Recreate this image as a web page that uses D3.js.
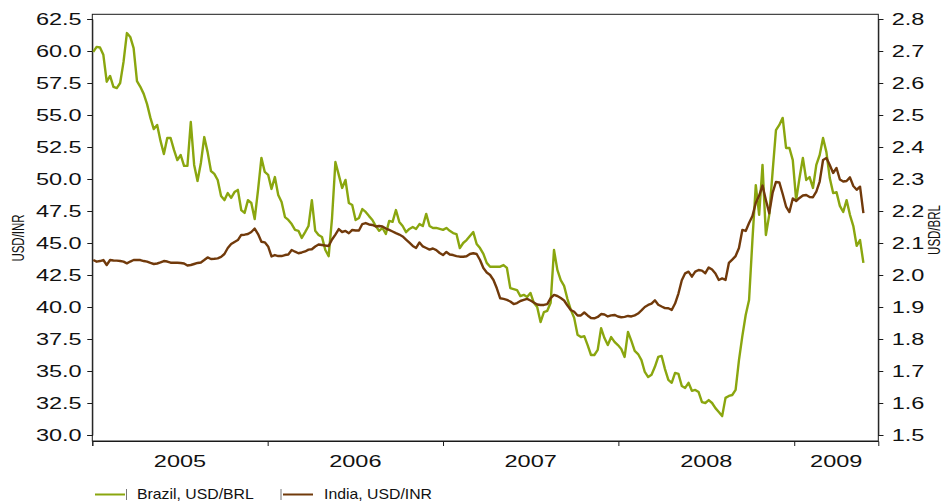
<!DOCTYPE html>
<html><head><meta charset="utf-8">
<script src="https://cdn.jsdelivr.net/npm/d3@7"></script>
<style>
html,body{margin:0;padding:0;background:#fff;}
svg{display:block;font-family:"Liberation Sans",Arial,sans-serif;}
</style></head>
<body><svg id="chart" width="942" height="502"></svg>
<script>
// Weekly observation calendar (Mondays), Jan 3 2005 .. May 25 2009
const weekStart = new Date(2005, 0, 3);
const weekEnd = new Date(2009, 4, 26);
const weeks = d3.timeMonday.range(weekStart, weekEnd);

const seriesNames = ["Brazil, USD/BRL", "India, USD/INR"];

// Brazil, USD/BRL (right axis)
const brazil = [
 2.697,2.713,2.711,2.688,2.604,2.622,2.588,2.584,2.600,2.666,
 2.756,2.744,2.709,2.606,2.588,2.566,2.534,2.491,2.456,2.469,
 2.419,2.378,2.428,2.428,2.391,2.359,2.375,2.341,2.341,2.478,
 2.344,2.294,2.350,2.431,2.384,2.325,2.316,2.297,2.247,2.234,
 2.256,2.241,2.259,2.266,2.203,2.194,2.234,2.225,2.175,2.266,
 2.366,2.322,2.313,2.269,2.306,2.250,2.228,2.181,2.172,2.159,
 2.141,2.138,2.116,2.134,2.153,2.234,2.138,2.125,2.119,2.078,
 2.059,2.178,2.353,2.313,2.272,2.297,2.225,2.219,2.172,2.178,
 2.206,2.197,2.184,2.172,2.153,2.138,2.147,2.128,2.169,2.166,
 2.203,2.166,2.153,2.134,2.144,2.150,2.144,2.159,2.153,2.191,
 2.153,2.147,2.147,2.144,2.141,2.147,2.138,2.131,2.128,2.084,
 2.100,2.109,2.122,2.134,2.097,2.084,2.066,2.038,2.026,2.026,
 2.026,2.026,2.031,2.022,1.959,1.956,1.953,1.934,1.938,1.931,
 1.944,1.913,1.900,1.853,1.884,1.888,1.913,2.078,2.016,1.984,
 1.966,1.925,1.891,1.866,1.813,1.806,1.809,1.781,1.750,1.750,
 1.766,1.834,1.803,1.781,1.806,1.791,1.781,1.769,1.744,1.822,
 1.794,1.763,1.753,1.734,1.697,1.681,1.688,1.713,1.744,1.747,
 1.706,1.672,1.663,1.694,1.691,1.653,1.647,1.663,1.638,1.641,
 1.634,1.603,1.600,1.609,1.600,1.584,1.572,1.559,1.616,1.622,
 1.625,1.641,1.734,1.809,1.875,1.922,2.109,2.281,2.188,2.344,
 2.125,2.188,2.322,2.453,2.469,2.491,2.397,2.397,2.359,2.234,
 2.303,2.366,2.297,2.306,2.272,2.344,2.375,2.428,2.384,2.303,
 2.256,2.259,2.216,2.197,2.234,2.188,2.153,2.091,2.109,2.038
];

// India, USD/INR (left axis)
const india = [
 43.67,43.54,43.59,43.67,43.28,43.67,43.63,43.62,43.59,43.54,
 43.41,43.55,43.67,43.67,43.67,43.59,43.54,43.44,43.36,43.40,
 43.48,43.59,43.55,43.46,43.46,43.46,43.44,43.40,43.24,43.28,
 43.36,43.44,43.48,43.67,43.87,43.75,43.77,43.80,43.91,44.14,
 44.61,44.92,45.08,45.23,45.63,45.65,45.70,45.86,46.13,45.70,
 45.10,45.05,44.73,43.95,44.06,43.98,43.98,44.06,44.10,44.45,
 44.32,44.20,44.26,44.34,44.48,44.51,44.73,44.88,44.84,44.80,
 44.77,45.27,45.66,46.09,45.86,45.94,45.76,46.02,45.98,45.98,
 46.48,46.56,46.45,46.41,46.29,46.33,46.29,46.13,46.02,45.90,
 45.77,45.66,45.51,45.27,45.02,44.77,44.61,45.04,44.73,44.61,
 44.48,44.57,44.45,44.22,44.06,44.30,44.10,44.06,43.98,43.93,
 43.93,43.96,44.14,44.20,44.14,43.67,43.05,42.70,42.50,42.11,
 41.46,40.68,40.63,40.55,40.43,40.23,40.31,40.47,40.55,40.63,
 40.51,40.35,40.20,40.16,40.16,40.23,40.70,40.94,40.86,40.70,
 40.51,40.12,39.77,39.63,39.34,39.34,39.57,39.34,39.14,39.12,
 39.22,39.45,39.41,39.26,39.35,39.38,39.26,39.20,39.23,39.30,
 39.26,39.35,39.49,39.73,40.00,40.16,40.27,40.52,40.18,40.04,
 39.91,39.90,39.77,40.27,41.05,42.09,42.63,42.76,42.37,42.76,
 42.89,42.84,42.64,43.09,42.93,42.62,42.11,42.23,42.11,43.44,
 43.70,43.98,44.61,46.02,45.94,46.56,47.11,48.13,48.71,49.49,
 48.36,47.32,48.91,49.77,49.73,48.83,47.85,47.42,48.48,48.28,
 48.52,48.71,48.75,48.59,48.58,49.02,49.80,51.48,51.64,51.09,
 50.47,50.86,49.96,49.80,49.84,50.13,49.45,49.16,49.40,47.34
];

const leftTicks = [30.0,32.5,35.0,37.5,40.0,42.5,45.0,47.5,50.0,52.5,55.0,57.5,60.0,62.5];
const rightTicks = [1.5,1.6,1.7,1.8,1.9,2.0,2.1,2.2,2.3,2.4,2.5,2.6,2.7,2.8];
const yearLabels = ["2005","2006","2007","2008","2009"];
const leftTitle = "USD/INR";
const rightTitle = "USD/BRL";

const GREEN = "#8aa60f";
const BROWN = "#713a0b";
const SX = 1.47; // horizontal stretch of the reference glyphs

const svg = d3.select("#chart");
const L = 92.3, R = 878.3, T = 14.3, B = 441;

const x = d3.scaleTime().domain([new Date(2005,0,1), new Date(2009,5,25)]).range([L, R]);
const yL = d3.scaleLinear().domain([30, 62.5]).range([435, 19]);
const yR = d3.scaleLinear().domain([1.5, 2.8]).range([435, 19]);

svg.append("rect").attr("width",942).attr("height",502).attr("fill","#fff");

// frame
svg.append("rect").attr("x",L).attr("y",T).attr("width",R-L).attr("height",B-T)
  .attr("fill","none").attr("stroke","#1a1a1a").attr("stroke-width",1);

// left axis
const gl = svg.append("g").attr("transform",`translate(${L},0)`)
  .call(d3.axisLeft(yL).tickValues(leftTicks).tickFormat(d3.format(".1f")).tickSize(5).tickPadding(0));
gl.select(".domain").attr("stroke","#1a1a1a");
gl.selectAll(".tick line").attr("stroke","#1a1a1a");
gl.selectAll(".tick text").attr("font-size",16).attr("fill","#111")
  .attr("font-family",'"Liberation Sans",Arial,sans-serif')
  .attr("transform",`scale(${SX},1)`).attr("x",-10.6/SX).attr("dy","0.36em");

// right axis
const gr = svg.append("g").attr("transform",`translate(${R},0)`)
  .call(d3.axisRight(yR).tickValues(rightTicks).tickFormat(d3.format(".1f")).tickSize(5).tickPadding(0));
gr.select(".domain").attr("stroke","#1a1a1a");
gr.selectAll(".tick line").attr("stroke","#1a1a1a");
gr.selectAll(".tick text").attr("font-size",16).attr("fill","#111")
  .attr("font-family",'"Liberation Sans",Arial,sans-serif')
  .attr("transform",`scale(${SX},1)`).attr("x",13.4/SX).attr("dy","0.36em");

// bottom axis: ticks at year starts, labels centred in each year
const yearStarts = yearLabels.map(y => new Date(+y, 0, 1));
const gb = svg.append("g").attr("transform",`translate(0,${B})`)
  .call(d3.axisBottom(x).tickValues(yearStarts).tickFormat("").tickSize(5));
gb.select(".domain").attr("stroke","#1a1a1a");
gb.selectAll(".tick line").attr("stroke","#1a1a1a");
const domEnd = x.domain()[1];
yearLabels.forEach((lab,i) => {
  const a = yearStarts[i];
  const b = i+1 < yearStarts.length ? yearStarts[i+1] : domEnd;
  const cx = (x(a) + Math.min(x(b), x(domEnd))) / 2;
  svg.append("text").attr("transform",`translate(${cx},467) scale(${SX},1)`)
    .attr("text-anchor","middle").attr("font-size",16).attr("fill","#111").text(lab);
});

// axis titles
svg.append("text").attr("transform",`translate(24,238) rotate(-90) scale(1,1.45)`)
  .attr("text-anchor","middle").attr("font-size",11.5).attr("fill","#111").text(leftTitle);
svg.append("text").attr("transform",`translate(940,230) rotate(-90) scale(1,1.45)`)
  .attr("text-anchor","middle").attr("font-size",11.5).attr("fill","#111").text(rightTitle);

// lines
const lineB = d3.line().x((d,i)=>x(weeks[i])).y(d=>yR(d));
const lineI = d3.line().x((d,i)=>x(weeks[i])).y(d=>yL(d));
svg.append("path").datum(brazil).attr("d",lineB).attr("fill","none")
  .attr("stroke",GREEN).attr("stroke-width",2.4).attr("stroke-linejoin","round");
svg.append("path").datum(india).attr("d",lineI).attr("fill","none")
  .attr("stroke",BROWN).attr("stroke-width",2.4).attr("stroke-linejoin","round");

// legend
const lg = svg.append("g");
// Brazil
lg.append("line").attr("x1",95).attr("x2",125).attr("y1",494.5).attr("y2",494.5).attr("stroke",GREEN).attr("stroke-width",2);
lg.append("line").attr("x1",126.5).attr("x2",126.5).attr("y1",489).attr("y2",500).attr("stroke","#777").attr("stroke-width",1);
lg.append("text").attr("transform",`translate(137,498.5) scale(1.13,1)`).attr("font-size",14).attr("fill","#111").text(seriesNames[0]);
// India
lg.append("line").attr("x1",281).attr("x2",281).attr("y1",489).attr("y2",500).attr("stroke","#777").attr("stroke-width",1);
lg.append("line").attr("x1",283).attr("x2",313).attr("y1",494.5).attr("y2",494.5).attr("stroke",BROWN).attr("stroke-width",2);
lg.append("text").attr("transform",`translate(324,498.5) scale(1.13,1)`).attr("font-size",14).attr("fill","#111").text(seriesNames[1]);
</script></body></html>
